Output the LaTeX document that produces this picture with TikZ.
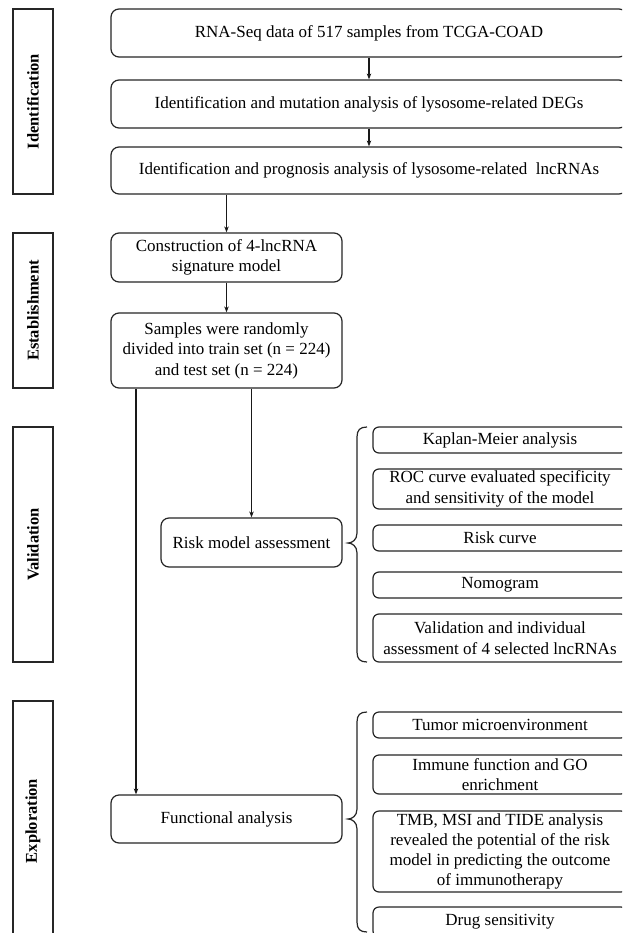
\documentclass[tikz,border=0pt]{standalone}
\usepackage{fontspec}
\setmainfont{Liberation Serif}
\usetikzlibrary{arrows.meta}
\begin{document}
\begin{tikzpicture}[x=1pt,y=-1pt,
  box/.style={draw=black!85, line width=1.2pt, rounded corners=8pt, align=center, inner sep=0pt, font=\fontsize{17}{20.5}\selectfont},
  sub/.style={box, rounded corners=6pt, minimum width=254pt},
  lab/.style={draw=black!85, line width=1.2pt, rotate=90, minimum height=40pt, inner sep=0pt, font=\fontsize{16.5}{20}\selectfont\bfseries},
  arr/.style={-{Stealth[length=6pt,width=4.5pt]}, line width=1.2pt, draw=black!90},
  brc/.style={line width=1.2pt, draw=black!85}]
\useasboundingbox (0,0) rectangle (622,933);
\clip (0,0) rectangle (622,933);
\fill[white] (0,0) rectangle (622,933);

% phase labels
\node[lab, minimum width=185pt] (lid) at (33,101.5) {Identification};
\node[lab, minimum width=155pt] (les) at (33,310.5) {Establishment};
\node[lab, minimum width=235pt] (lva) at (33,544.5) {Validation};
\node[lab, minimum width=240pt] (lex) at (33,821) {Exploration};

% main flow
\node[box, minimum width=516pt, minimum height=48pt] (b1) at (369,33) {RNA-Seq data of 517 samples from TCGA-COAD};
\node[box, minimum width=516pt, minimum height=48pt] (b2) at (369,104) {Identification and mutation analysis of lysosome-related DEGs};
\node[box, minimum width=516pt, minimum height=47pt] (b3) at (369,170.5) {Identification and prognosis analysis of lysosome-related \ lncRNAs};
\node[box, minimum width=231pt, minimum height=49pt] (b4) at (226.5,257.5) {Construction of 4-lncRNA\\signature model};
\node[box, minimum width=231pt, minimum height=75pt] (b5) at (226.5,350.5) {Samples were randomly\\divided into train set (n = 224)\\and test set (n = 224)};
\node[box, minimum width=181pt, minimum height=49pt] (risk) at (251.5,542.5) {Risk model assessment};
\node[box, minimum width=231pt, minimum height=48pt] (func) at (226.5,819) {Functional analysis};

% validation items
\node[sub, minimum height=26pt] (k1) at (500,440) {Kaplan-Meier analysis};
\node[sub, minimum height=40pt] (k2) at (500,489) {ROC curve evaluated specificity\\and sensitivity of the model};
\node[sub, minimum height=26pt] (k3) at (500,538) {Risk curve};
\node[sub, minimum height=26pt] (k4) at (500,585) {Nomogram};
\node[sub, minimum height=48pt] (k5) at (500,638) {Validation and individual\\assessment of 4 selected lncRNAs};

% exploration items
\node[sub, minimum height=26pt] (e1) at (500,725) {Tumor microenvironment};
\node[sub, minimum height=39pt] (e2) at (500,774.5) {Immune function and GO\\enrichment};
\node[sub, minimum height=81pt, font=\fontsize{17}{20}\selectfont] (e3) at (500,851.5) {TMB, MSI and TIDE analysis\\revealed the potential of the risk\\model in predicting the outcome\\of immunotherapy};
\node[sub, minimum height=30pt] (e4) at (500,922) {Drug sensitivity};

% connectors
\coordinate (fx) at (136,0);
\draw[arr] (b1) -- (b2);
\draw[arr] (b2) -- (b3);
\draw[arr] (b3.south -| b4.north) -- (b4.north);
\draw[arr] (b4) -- (b5);
\draw[arr] (b5.south -| risk.north) -- (risk.north);
\draw[arr] (b5.south -| fx) -- (func.north -| fx);

% braces
\draw[brc] (367,427) .. controls (360,427) and (357,430) .. (357,437) -- (357,533)
  .. controls (357,540) and (352,543) .. (348,543)
  .. controls (352,543) and (357,546) .. (357,553) -- (357,652)
  .. controls (357,659) and (360,662) .. (367,662);
\draw[brc] (367,712) .. controls (360,712) and (357,715) .. (357,722) -- (357,809)
  .. controls (357,816) and (352,819) .. (348,819)
  .. controls (352,819) and (357,822) .. (357,829) -- (357,922)
  .. controls (357,929) and (360,932) .. (367,932);
\end{tikzpicture}
\end{document}
